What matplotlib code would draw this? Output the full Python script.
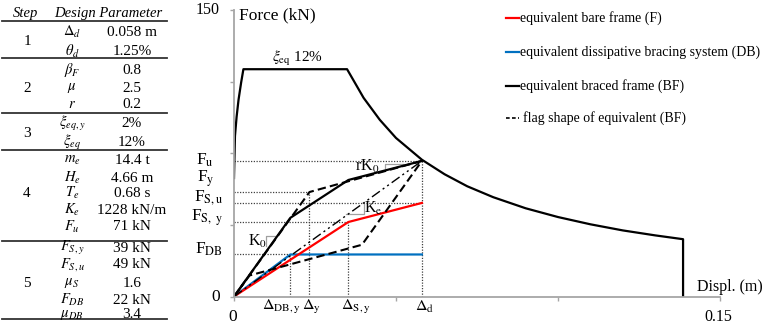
import matplotlib
matplotlib.use('Agg')
import matplotlib.pyplot as plt
from matplotlib.lines import Line2D

plt.rcParams['font.family'] = ['Liberation Serif', 'DejaVu Serif']
plt.rcParams['mathtext.fontset'] = 'stix'

W, H = 765, 331

# ---------------- data ----------------
# design spectrum (ADRS, xi_eq = 12%)
spec_disp = [0, 0.0003, 0.0008, 0.0014, 0.0022, 0.0029, 0.0349, 0.040, 0.045,
             0.050, 0.058, 0.065, 0.072, 0.080, 0.090, 0.100, 0.110, 0.120,
             0.130, 0.1386, 0.1386]
spec_force = [62, 84, 94, 103, 112, 119, 119, 104, 92.5, 83, 71.6, 64, 57.7,
              52, 46.2, 41.6, 37.8, 34.6, 32, 30, 0]

# key points
d_DBy, d_y, d_Sy, d_d = 0.0174, 0.0233, 0.0353, 0.058
F_DB, F_Sy, F_Su, F_y, F_u = 22, 39, 49, 54.7, 71

frame_disp = [0, d_Sy, d_d]
frame_force = [0, F_Sy, F_Su]
brace_disp = [0, d_DBy, d_d]
brace_force = [0, F_DB, F_DB]
bf_disp = [0, d_DBy, d_Sy, d_d]
bf_force = [0, 41.2, 61, 71]
flag_disp = [0, d_y, d_d, 0.0395, 0.0048, 0]
flag_force = [0, F_y, F_u, 27.1, 11, 0]
secant_disp = [0, d_d]
secant_force = [0, F_u]

legend_labels = ['equivalent bare frame (F)',
                 'equivalent dissipative bracing system (DB)',
                 'equivalent braced frame (BF)',
                 'flag shape of equivalent (BF)']

# table
steps = ['1', '2', '3', '4', '5']
params = [r'$\Delta_d$', r'$\theta_d$', r'$\beta_F$', r'$\mu$', r'$r$',
          r'$\xi_{eq,y}$', r'$\xi_{eq}$', r'$m_e$', r'$H_e$', r'$T_e$',
          r'$K_e$', r'$F_u$', r'$F_{S,y}$', r'$F_{S,u}$', r'$\mu_S$',
          r'$F_{DB}$', r'$\mu_{DB}$']
values = ['0.058 m', '1.25%', '0.8', '2.5', '0.2', '2%', '12%', '14.4 t',
          '4.66 m', '0.68 s', '1228 kN/m', '71 kN', '39 kN', '49 kN', '1.6',
          '22 kN', '3.4']

# ---------------- figure ----------------
fig = plt.figure(figsize=(W / 100, H / 100), dpi=100)


def fx(px):
    return px / W


def fy(py):
    return 1 - py / H


# axes: x 0 -> px 234, 0.15 -> px 720 ; y 0 -> py 296.5, 150 -> py 10
ax = fig.add_axes([fx(234), fy(296.5), (720 - 234) / W, (296.5 - 10) / H])
ax.set_xlim(0, 0.15)
ax.set_ylim(0, 150)
for s in ['top', 'right']:
    ax.spines[s].set_visible(False)
for s in ['left', 'bottom']:
    ax.spines[s].set_color('#a6a6a6')
    ax.spines[s].set_linewidth(1.3)
ax.set_xticks([0, 0.05, 0.10, 0.15])
ax.set_yticks([0, 37.5, 75, 112.5, 150])
ax.tick_params(axis='both', direction='out', length=3, width=1.0,
               color='#a6a6a6', labelleft=False, labelbottom=False)
ax.patch.set_alpha(0)

dot = dict(color='#404040', lw=0.9, ls=(0, (1, 1.2)))
# horizontal guides
ax.plot([0, d_d], [F_u, F_u], **dot)
ax.plot([0, d_y], [F_y, F_y], **dot)
ax.plot([0, d_d], [F_Su, F_Su], **dot)
ax.plot([0, d_Sy], [F_Sy, F_Sy], **dot)
ax.plot([0, d_DBy], [F_DB, F_DB], **dot)
# vertical guides
ax.plot([d_DBy, d_DBy], [0, F_DB], **dot)
ax.plot([d_y, d_y], [0, F_y], **dot)
ax.plot([d_Sy, d_Sy], [0, F_Sy], **dot)
ax.plot([d_d, d_d], [0, F_u], **dot)

# slope triangles
tri = dict(color='#a0a0a0', lw=0.9)
ax.plot([0.0099, 0.0099, 0.0130], [26.7, 31.5, 31.5], **tri)
ax.plot([0.0466, 0.0466, 0.0522], [67.1, 69.4, 69.4], **tri)
ax.plot([0.0346, 0.0402, 0.0402], [43.4, 43.4, 48.6], **tri)

ax.plot(brace_disp, brace_force, color='#0070c0', lw=1.6)
ax.plot(frame_disp, frame_force, color='#ff0000', lw=1.6)
ax.plot(secant_disp, secant_force, color='black', lw=1.0,
        ls=(0, (7, 2.5, 1.5, 2.5, 1.5, 2.5)))
ax.plot(flag_disp, flag_force, color='black', lw=1.5, ls=(0, (4, 2)))
ax.plot(bf_disp, bf_force, color='black', lw=1.6)
ax.plot(spec_disp, spec_force, color='black', lw=1.6)

# ---------------- chart texts ----------------
fs = 11.5
fig.text(fx(220), fy(10), '150', ha='right', va='center', fontsize=fs)
fig.text(fx(239), fy(15), 'Force (kN)', ha='left', va='center', fontsize=12.5)
fig.text(fx(214), fy(160), r'F$_{\mathrm{u}}$', ha='right', va='center', fontsize=12.5)
fig.text(fx(215), fy(179), r'F$_{\mathrm{y}}$', ha='right', va='center', fontsize=12.5)
fig.text(fx(223), fy(198), r'F$_{\mathrm{S,u}}$', ha='right', va='center', fontsize=12.5)
fig.text(fx(223), fy(218), r'F$_{\mathrm{S,\ y}}$', ha='right', va='center', fontsize=12.5)
fig.text(fx(223), fy(249), r'F$_{\mathrm{DB}}$', ha='right', va='center', fontsize=12.5)
fig.text(fx(220), fy(297), '0', ha='right', va='center', fontsize=12.5)

fig.text(fx(233), fy(317), '0', ha='center', va='center', fontsize=12.5)
fig.text(fx(282), fy(307), r'$\Delta_{\mathrm{DB,y}}$', ha='center', va='center', fontsize=fs)
fig.text(fx(312), fy(307), r'$\Delta_{\mathrm{y}}$', ha='center', va='center', fontsize=fs)
fig.text(fx(356), fy(307), r'$\Delta_{\mathrm{S,y}}$', ha='center', va='center', fontsize=fs)
fig.text(fx(425), fy(307), r'$\Delta_{\mathrm{d}}$', ha='center', va='center', fontsize=fs)
fig.text(fx(718), fy(317), '0.15', ha='center', va='center', fontsize=fs)
fig.text(fx(763), fy(287), 'Displ. (m)', ha='right', va='center', fontsize=fs)

fig.text(fx(297), fy(59), r'$\xi_{\mathrm{eq}}$ 12%', ha='center', va='center', fontsize=fs - 0.5)
fig.text(fx(248), fy(241), r'K$_0$', ha='left', va='center', fontsize=fs)
fig.text(fx(355), fy(166), r'rK$_0$', ha='left', va='center', fontsize=fs)
fig.text(fx(364), fy(208), r'K$_\mathrm{e}$', ha='left', va='center', fontsize=fs)

# legend (manual)
leg_y = [18.3, 52.3, 85.7, 118.3]
leg_style = [dict(color='#ff0000', lw=1.6), dict(color='#0070c0', lw=1.6),
             dict(color='black', lw=1.6), dict(color='black', lw=1.2, ls=(0, (2.2, 1.4)))]
for yy, lab, st in zip(leg_y, legend_labels, leg_style):
    fig.add_artist(Line2D([fx(506), fx(519)], [fy(yy), fy(yy)], **st))
    fig.text(fx(520 if st.get('ls') is None else 523), fy(yy), lab,
             ha='left', va='center', fontsize=10)

# ---------------- table ----------------
tfs = 10
fig.text(fx(26), fy(13), 'Step', ha='center', va='center', fontsize=tfs + 0.5, style='italic')
fig.text(fx(108), fy(13), 'Design Parameter', ha='center', va='center',
         fontsize=tfs + 0.5, style='italic')
for ly in [20.7, 58.3, 112.7, 150, 240.7, 319.3]:
    fig.add_artist(Line2D([fx(2), fx(167)], [fy(ly), fy(ly)], color='#333333', lw=1.3))

row_y = [32.3, 51.7, 70, 88.3, 105, 123.5, 142, 160, 178.3, 193.3, 210,
         226.7, 248.3, 265, 283.3, 300, 315]
step_y = [41.7, 88.3, 133.3, 193.3, 283.3]
for s, yy in zip(steps, step_y):
    fig.text(fx(27), fy(yy), s, ha='center', va='center', fontsize=tfs + 1)
for p, v, yy in zip(params, values, row_y):
    fig.text(fx(72), fy(yy), p, ha='center', va='center', fontsize=tfs + 0.5)
    fig.text(fx(132), fy(yy), v, ha='center', va='center', fontsize=tfs + 1)

fig.savefig('out.png', dpi=100)
